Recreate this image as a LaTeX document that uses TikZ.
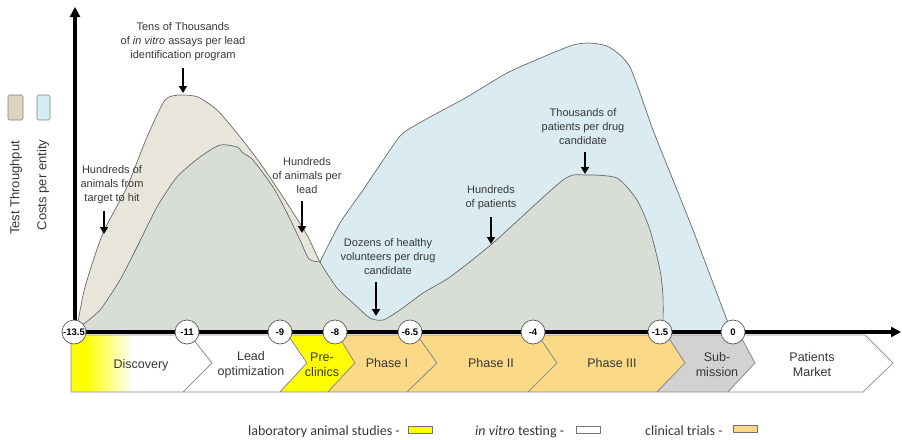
\documentclass[tikz,border=0pt]{standalone}
\usepackage{fontspec}
\setmainfont{Liberation Sans}
\newfontfamily\legendfont{Carlito}
\usetikzlibrary{arrows.meta}

\definecolor{tpfill}{RGB}{232,229,218}
\definecolor{costfill}{RGB}{218,235,242}
\definecolor{bothfill}{RGB}{216,222,214}
\definecolor{curveline}{RGB}{105,105,105}
\definecolor{labgray}{RGB}{55,55,55}
\definecolor{animalyellow}{RGB}{255,255,0}
\definecolor{clinical}{RGB}{250,217,135}
\definecolor{submitgray}{RGB}{210,210,210}
\definecolor{chevline}{RGB}{140,140,140}
\definecolor{tpkey}{RGB}{218,213,192}
\definecolor{costkey}{RGB}{216,236,244}

\pgfdeclarehorizontalshading{discoveryshade}{100bp}{color(0bp)=(animalyellow); color(30bp)=(animalyellow); color(47bp)=(white); color(100bp)=(white)}

% test throughput per stage
\newcommand\throughputcurve{plot[smooth,tension=0.4] coordinates {(75,332) (77,327) (85,287) (103,233) (127,187) (147,137) (165,100) (180,95) (198,97) (217,110) (237,133) (260,163) (283,197) (307,235) (320,262) (337,288) (353,303) (370,318) (383,320) (400,310) (423,293) (450,277) (493,243) (563,180) (585,175) (617,178) (637,200) (650,230) (660,270) (663,297) (663,332)}}
% costs per tested entity: early hill, then the clinical rise
\newcommand\costcurve{plot[smooth,tension=0.4] coordinates {(75,332) (80,327) (100,310) (120,280) (137,247) (157,207) (177,177) (200,157) (220,145) (237,147) (243,153) (253,160) (273,187) (287,213) (300,240) (309,259) (320,262)} -- plot[smooth,tension=0.4] coordinates {(320,262) (340,223) (363,190) (390,150) (403,133) (430,117) (467,97) (507,73) (543,57) (573,45) (590,43) (607,46) (620,55) (630,67) (640,93) (653,130) (673,180) (693,230) (713,283) (727,320) (733,332)}}

\tikzset{
  curveedge/.style={draw=curveline, line width=0.7pt},
  chevron/.style={draw=chevline, line width=0.7pt, line join=round},
  stagelabel/.style={text=labgray, align=center, inner sep=0pt,
    font=\fontsize{12.5}{15}\selectfont},
  note/.style={text=labgray, align=center, inner sep=1pt,
    font=\fontsize{11}{14}\selectfont},
  pointer/.style={line width=2.2pt, -{Triangle[length=7pt,width=8pt]}, shorten <=6pt},
  axisline/.style={line width=3.2pt, -{Triangle[length=10pt,width=10pt]}},
  tick/.style={circle, fill=white, draw=black!65, line width=0.7pt, minimum size=24pt,
    inner sep=0pt, font=\bfseries\fontsize{9.5}{10}\selectfont},
  keybox/.style={draw=black!50, line width=0.7pt, rounded corners=1.5pt},
  axislabel/.style={text=labgray, rotate=90, inner sep=0pt, font=\fontsize{13}{15}\selectfont},
  legtext/.style={text=labgray, inner sep=0pt, font=\legendfont\fontsize{14}{16}\selectfont},
  swatch/.style={draw=black!55, line width=0.6pt, minimum width=24pt, minimum height=7pt, inner sep=0pt}
}

\begin{document}
\begin{tikzpicture}[x=1pt, y=-1pt]
\useasboundingbox (0,0) rectangle (902,439);

% ---- curves -------------------------------------------------------
\fill[tpfill] \throughputcurve -- cycle;
\fill[costfill] \costcurve -- cycle;
\begin{scope}
  \clip \throughputcurve -- cycle;
  \fill[bothfill] \costcurve -- cycle;
\end{scope}
\draw[curveedge] \throughputcurve;
\draw[curveedge] \costcurve;

% ---- stage chevrons -------------------------------------------------
\path[shading=discoveryshade, chevron] (71,335) -- (190,335) -- (212,363) -- (183,392) -- (71,392) -- cycle;
\path[fill=white, chevron] (190,335) -- (288,335) -- (307,363) -- (280,392) -- (183,392) -- (212,363) -- cycle;
\path[fill=animalyellow, chevron] (288,335) -- (338,335) -- (355,363) -- (328,392) -- (280,392) -- (307,363) -- cycle;
\path[fill=clinical, chevron] (338,335) -- (417,335) -- (437,363) -- (407,392) -- (328,392) -- (355,363) -- cycle;
\path[fill=clinical, chevron] (417,335) -- (538,335) -- (557,363) -- (528,392) -- (407,392) -- (437,363) -- cycle;
\path[fill=clinical, chevron] (538,335) -- (667,335) -- (685,363) -- (657,392) -- (528,392) -- (557,363) -- cycle;
\path[fill=submitgray, chevron] (667,335) -- (740,335) -- (755,363) -- (728,392) -- (657,392) -- (685,363) -- cycle;
\path[fill=white, chevron] (740,335) -- (865,335) -- (893,363) -- (863,392) -- (728,392) -- (755,363) -- cycle;

\node[stagelabel] (discovery) at (141,365) {Discovery};
\node[stagelabel] (leadopt) at (251,365) {Lead\\optimization};
\node[stagelabel] (preclin) at (322,365) {Pre-\\clinics};
\node[stagelabel] (phase1) at (387,363) {Phase I};
\node[stagelabel] (phase2) at (491,363) {Phase II};
\node[stagelabel] (phase3) at (612,363) {Phase III};
\node[stagelabel] (submission) at (717,365) {Sub-\\mission};
\node[stagelabel] (market) at (812,365) {Patients\\Market};

% ---- axes -----------------------------------------------------------
\coordinate (origin) at (75,332);
\coordinate (ytop) at (75,7);
\coordinate (xend) at (901,332);
\draw[axisline] (origin) -- (ytop);
\draw[axisline] (origin) -- (xend);

% ---- years to launch ----------------------------------------------
\node[tick] (t135) at (74,332) {-13.5};
\node[tick] (t11) at (187,332) {-11};
\node[tick] (t9) at (280,332) {-9};
\node[tick] (t8) at (335,332) {-8};
\node[tick] (t65) at (410,332) {-6.5};
\node[tick] (t4) at (533,332) {-4};
\node[tick] (t15) at (660,332) {-1.5};
\node[tick] (t0) at (733,332) {0};

% ---- key of the two curves ------------------------------------------
\node[keybox, fill=tpkey, minimum width=15pt, minimum height=25pt, inner sep=0pt] (tpkey) at (15.5,107.5) {};
\node[keybox, fill=costkey, minimum width=13pt, minimum height=25pt, inner sep=0pt] (costkey) at (43.5,107.5) {};
\node[axislabel] (tplabel) at (16,188) {Test Throughput};
\node[axislabel] (costlabel) at (43,185) {Costs per entity};

% ---- annotations ----------------------------------------------------
\node[note] (n1) at (183,42) {Tens of Thousands\\of \textit{in vitro} assays per lead\\identification program};
\coordinate (p1) at (183,93);
\draw[pointer] (n1.south -| p1) -- (p1);

\node[note] (n2) at (112,185) {Hundreds of\\animals from\\target to hit};
\coordinate (p2) at (104,234);
\draw[pointer] (n2.south -| p2) -- (p2);

\node[note] (n3) at (307,176) {Hundreds\\of animals per\\lead};
\coordinate (p3) at (302,233);
\draw[pointer] (n3.south -| p3) -- (p3);

\node[note] (n4) at (388,257) {Dozens of healthy\\volunteers per drug\\candidate};
\coordinate (p4) at (376,316);
\draw[pointer] (n4.south -| p4) -- (p4);

\node[note] (n5) at (491,198) {Hundreds\\of patients};
\coordinate (p5) at (491,244);
\draw[pointer] (n5.south -| p5) -- (p5);

\node[note] (n6) at (583,127) {Thousands of\\patients per drug\\candidate};
\coordinate (p6) at (585,174);
\draw[pointer] (n6.south -| p6) -- (p6);

% ---- colour key of the stages ---------------------------------------
\node[legtext, anchor=base west] (lanimal) at (248,435) {laboratory animal studies -};
\node[swatch, fill=animalyellow] (sanimal) at (420,430) {};
\node[legtext, anchor=base west] (lvitro) at (475,435) {\textit{in vitro} testing -};
\node[swatch, fill=white] (svitro) at (588,430) {};
\node[legtext, anchor=base west] (lclinic) at (645,435) {clinical trials -};
\node[swatch, fill=clinical] (sclinic) at (745,429) {};
\end{tikzpicture}
\end{document}
